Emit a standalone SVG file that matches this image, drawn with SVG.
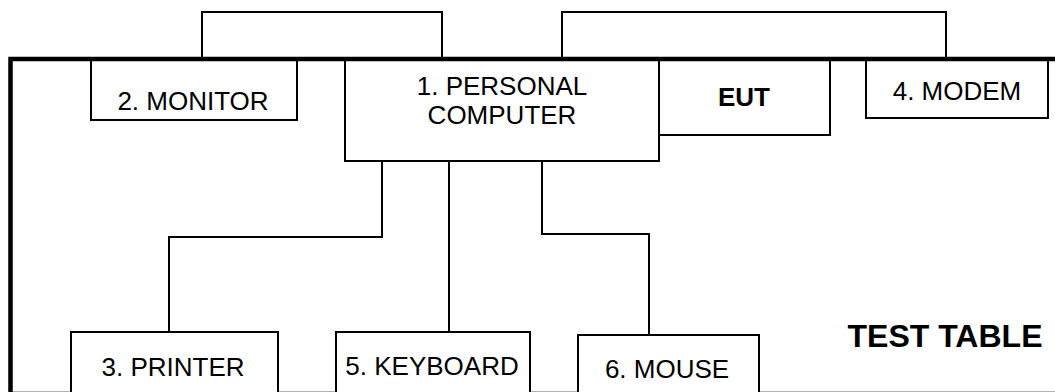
<svg xmlns="http://www.w3.org/2000/svg" width="1055" height="392" viewBox="0 0 1055 392">
<style>
.box{fill:#fff;stroke:#000;stroke-width:2}
.ln{fill:none;stroke:#000;stroke-width:2}
.t{font-family:"Liberation Sans",Arial,sans-serif;font-size:26px;fill:#000;text-anchor:middle}
.b{font-weight:bold}
</style>
<rect width="1055" height="392" fill="#fff"/>
<g id="connectors">
<polyline class="ln" points="202,59 202,12 442,12 442,59"/>
<polyline class="ln" points="562,59 562,12 946,12 946,59"/>
<polyline class="ln" points="382,161 382,237 169,237 169,332"/>
<line class="ln" x1="449" y1="161" x2="449" y2="332"/>
<polyline class="ln" points="542,161 542,234 649,234 649,335"/>
</g>
<line x1="12" y1="391.5" x2="1055" y2="391.5" stroke="#b0b0b0" stroke-width="1"/>
<g id="monitor">
<rect class="box" x="91" y="60" width="206" height="60"/>
<text class="t" x="193" y="110">2. MONITOR</text>
</g>
<g id="eut">
<rect class="box" x="659" y="60" width="171" height="75"/>
<text class="t b" x="744" y="106">EUT</text>
</g>
<g id="pc">
<rect class="box" x="345" y="60" width="314" height="101"/>
<text class="t" x="502" y="95">1. PERSONAL</text>
<text class="t" x="502" y="124">COMPUTER</text>
</g>
<g id="modem">
<rect class="box" x="866" y="60" width="182" height="58"/>
<text class="t" x="957" y="100">4. MODEM</text>
</g>
<g id="printer">
<rect class="box" x="71" y="332" width="207" height="80"/>
<text class="t" x="173" y="376">3. PRINTER</text>
</g>
<g id="keyboard">
<rect class="box" x="336" y="332" width="194" height="80"/>
<text class="t" x="432" y="375">5. KEYBOARD</text>
</g>
<g id="mouse">
<rect class="box" x="578" y="335" width="181" height="80"/>
<text class="t" x="667" y="378">6. MOUSE</text>
</g>
<g id="test-table">
<polyline fill="none" stroke="#000" stroke-width="4.5" points="10.5,392 10.5,59 1055,59"/>
<text class="t b" x="945" y="347" style="font-size:32px">TEST TABLE</text>
</g>
</svg>
